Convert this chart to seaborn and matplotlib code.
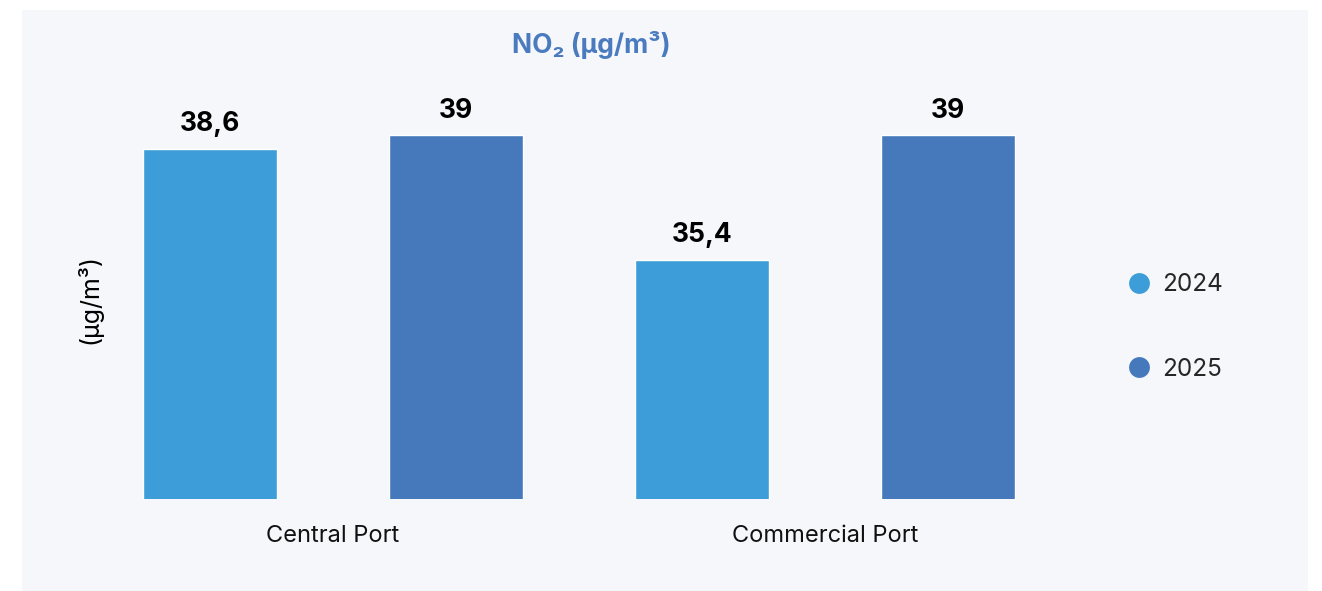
import matplotlib
matplotlib.use("Agg")
import matplotlib.pyplot as plt
from matplotlib.lines import Line2D
from matplotlib.patches import Rectangle
import pandas as pd
import seaborn as sns

# data
ports = ["Central Port", "Commercial Port"]
years = ["2024", "2025"]
no2_2024 = [38.6, 35.4]
no2_2025 = [39.0, 39.0]

colors = {"2024": "#3D9DD8", "2025": "#4679BC"}

df = pd.DataFrame({
    "port": ports * 2,
    "year": [years[0]] * len(ports) + [years[1]] * len(ports),
    "value": no2_2024 + no2_2025,
})

sns.set_theme(style="white")
plt.rcParams["font.family"] = ["Inter", "DejaVu Sans"]

W, H = 1322, 591
fig = plt.figure(figsize=(W / 100, H / 100), dpi=100)
fig.patch.set_facecolor("white")

# light panel behind the chart
fig.patches.append(Rectangle((22 / W, 0), (1308 - 22) / W, 1 - 10 / H,
                             transform=fig.transFigure, facecolor="#F6F7FB",
                             edgecolor="none", zorder=-10))

ax = fig.add_axes([87 / W, (H - 499) / H, (1071 - 87) / W, (499 - 100) / H])
ax.set_facecolor("none")

sns.barplot(data=df, x="port", y="value", hue="year", order=ports,
            hue_order=years, palette=colors, width=1.0, gap=0.455,
            saturation=1, legend=False, ax=ax)

ax.set_xlim(-0.5, 1.5)
ax.set_ylim(28.5, 40.0)

for cont in ax.containers:
    labels = [f"{v:g}".replace(".", ",") for v in cont.datavalues]
    ax.bar_label(cont, labels=labels, padding=8, fontsize=19,
                 fontweight="bold", color="black")

ax.set_xlabel("")
ax.set_ylabel("(µg/m³)", fontsize=18, color="black", labelpad=-11)
ax.set_yticks([])
ax.tick_params(axis="x", length=0, pad=19, labelsize=17, labelcolor="#111111")
sns.despine(ax=ax, left=True, bottom=True)

fig.text(591 / W, 1 - 45 / H, "NO₂ (µg/m³)", ha="center", va="center",
         fontsize=19, fontweight="bold", color="#4A7BBF")

handles = [Line2D([], [], marker="o", linestyle="none", markersize=15,
                  markerfacecolor=colors[y], markeredgecolor="none")
           for y in years]
fig.legend(handles, years, loc="center left",
           bbox_to_anchor=(1116 / W, 1 - 327 / H), frameon=False,
           fontsize=17.5, labelspacing=2.55, handlelength=1.1,
           handletextpad=0.4, borderaxespad=0)

fig.savefig("out.png", dpi=100, facecolor=fig.get_facecolor())
